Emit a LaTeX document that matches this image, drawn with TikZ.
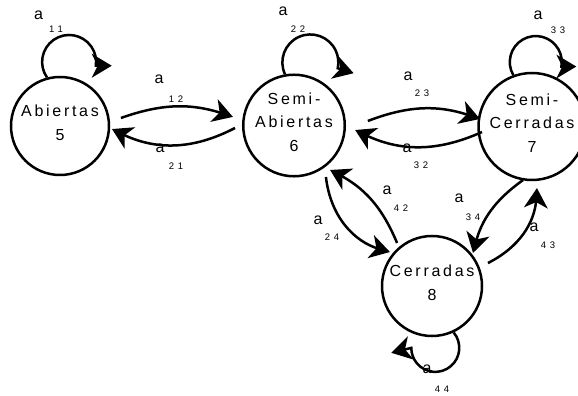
\documentclass[tikz,border=0pt]{standalone}
\usepackage{fontspec}
\setmainfont{Liberation Sans}
\newfontfamily\statefont[LetterSpace=17]{Liberation Sans}
\newfontfamily\idxfont[LetterSpace=40]{Liberation Sans}
\usetikzlibrary{decorations.markings}

\tikzset{
  state/.style={circle, draw, line width=2.5pt, minimum size=98pt, inner sep=0pt,
    align=center, text depth=7pt, font={\statefont\fontsize{16}{23.5}\selectfont}},
  % filled kite-shaped head placed at the end of a connector
  kite head/.style={postaction={decorate, decoration={markings,
      mark=at position 0.999 with {\fill (0pt,0pt) -- (-20pt,12pt) -- (-14pt,0pt)
        -- (-20pt,-12pt) -- cycle;}}}},
  trans/.style={line width=2.5pt, shorten >=10pt, kite head},
  sym/.style={inner sep=0pt, font={\statefont\fontsize{16}{19}\selectfont}},
  idx/.style={inner sep=0pt, font={\idxfont\fontsize{9.5}{11}\selectfont}},
}

\begin{document}
\begin{tikzpicture}[x=1pt,y=1pt]
\useasboundingbox (0,0) rectangle (578,396);
\fill[white] (0,0) rectangle (578,396);

% states
\node[state] (s5) at (60,270) {Abiertas\\5};
\node[state] (s6) at (294,270.5) {Semi-\\Abiertas\\6};
\node[state] (s7) at (532,269.5) {Semi-\\Cerradas\\7};
\node[state, minimum size=100pt] (s8) at (432,110) {Cerradas\\8};

% transition labels a_ij
\node[sym] (a11) at (38.5,380.5) {a};  \node[idx] (i11) at (56,367) {11};
\node[sym] (a22) at (283,384.5) {a};   \node[idx] (i22) at (298,367) {22};
\node[sym] (a33) at (538,381) {a};     \node[idx] (i33) at (558,366) {33};
\node[sym] (a12) at (159,317) {a};     \node[idx] (i12) at (176,297) {12};
\node[sym] (a21) at (160,248) {a};     \node[idx] (i21) at (176,230) {21};
\node[sym] (a23) at (408,320) {a};     \node[idx] (i23) at (422,303) {23};
\node[sym] (a32) at (407,248) {a};     \node[idx] (i32) at (421,231) {32};
\node[sym] (a24) at (318,176) {a};     \node[idx] (i24) at (332,159) {24};
\node[sym] (a42) at (387,206) {a};     \node[idx] (i42) at (401,188) {42};
\node[sym] (a34) at (459,198) {a};     \node[idx] (i34) at (473,179) {34};
\node[sym] (a43) at (534,169) {a};     \node[idx] (i43) at (548,151) {43};
\node[sym] (a44) at (427,27) {a};      \node[idx] (i44) at (442,7) {44};

% transitions between states
\draw[trans] ([shift={(7.5:61.5)}]s5.center) to[bend left=19] ([shift={(172:61.6)}]s6.center);
\draw[trans] ([shift={(182.4:59)}]s6.center) to[bend left=27] ([shift={(356.7:52)}]s5.center);
\draw[trans] ([shift={(3.5:74)}]s6.center) to[bend left=20] ([shift={(171.8:52.5)}]s7.center);
\draw[trans] ([shift={(186.3:50.3)}]s7.center) to[bend left=25] ([shift={(355.8:61.2)}]s6.center);
\draw[trans] ([shift={(-58.2:60.6)}]s6.center) to[bend right=34] ([shift={(141:54)}]s8.center);
\draw[trans] ([shift={(129.1:55.4)}]s8.center) to[bend right=20] ([shift={(-51:57.2)}]s6.center);
\draw[trans] ([shift={(260.5:54.3)}]s7.center) to[bend right=20] ([shift={(38.8:52.6)}]s8.center);
\draw[trans] ([shift={(22.3:60.5)}]s8.center) to[bend right=30] ([shift={(-85.4:61.7)}]s7.center);

% self loops
\draw[trans] (s5.105) arc[start angle=215, end angle=-8, radius=27] -- ++(16,0);
\draw[trans] (s6.100) arc[start angle=205, end angle=-12, radius=28] -- ++(16,-5);
\draw[trans] (s7.110) arc[start angle=210, end angle=-10, radius=26] -- ++(15,0);
\draw[trans] (s8.-65) arc[start angle=40, end angle=-180, radius=24] -- ++(-20,-5);
\end{tikzpicture}
\end{document}
